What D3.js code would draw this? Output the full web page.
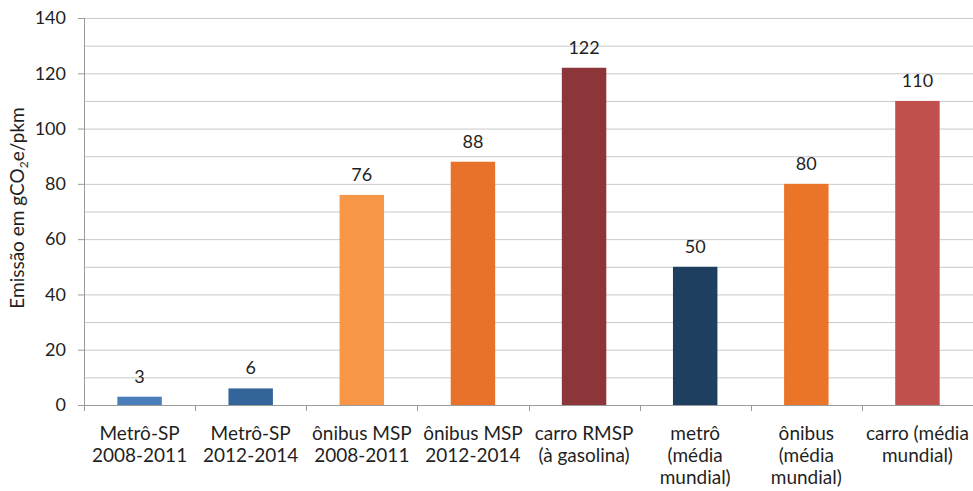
<!DOCTYPE html>
<html>
<head>
<meta charset="utf-8">
<script src="https://cdn.jsdelivr.net/npm/d3@7"></script>
<style>
    html, body { margin: 0; padding: 0; background: #fff; }
    svg text { font-family: Lato, "Open Sans", sans-serif; fill: #1f1f1f; }
</style>
</head>
<body>
<div id="chart"></div>
<script>
// Data
var categories = [
    ['Metrô-SP', '2008-2011'],
    ['Metrô-SP', '2012-2014'],
    ['ônibus MSP', '2008-2011'],
    ['ônibus MSP', '2012-2014'],
    ['carro RMSP', '(à gasolina)'],
    ['metrô', '(média', 'mundial)'],
    ['ônibus', '(média', 'mundial)'],
    ['carro (média', 'mundial)']
];
var values = [3, 6, 76, 88, 122, 50, 80, 110];
var barColors = ['#4a7ebb', '#33659a', '#f79646', '#e8722a', '#8c363a', '#1f3f60', '#ea7428', '#c0504d'];
var yTicks = [0, 20, 40, 60, 80, 100, 120, 140];
var gridValues = d3.range(10, 141, 10);

(function() {
    'use strict';
    var width, height, margin, svg, x, y, g, i, bx, title;

    width = 973;
    height = 491;
    margin = {left: 84, right: 0, top: 18, bottom: 86};

    svg = d3.select('#chart').append('svg')
        .attr('width', width)
        .attr('height', height);

    x = d3.scaleBand()
        .domain(d3.range(categories.length))
        .range([margin.left, width - margin.right])
        .paddingInner(0.6)
        .paddingOuter(0.3);

    y = d3.scaleLinear()
        .domain([0, 140])
        .range([height - margin.bottom, margin.top]);

    // Grid lines
    svg.append('g').selectAll('line')
        .data(gridValues)
        .enter().append('line')
        .attr('x1', margin.left)
        .attr('x2', width - margin.right)
        .attr('y1', function(d) { return y(d) + 0.5; })
        .attr('y2', function(d) { return y(d) + 0.5; })
        .attr('stroke', '#c9c9c9')
        .attr('stroke-width', 1);

    // Bars
    svg.append('g').selectAll('rect')
        .data(values)
        .enter().append('rect')
        .attr('x', function(d, i) { return x(i); })
        .attr('y', function(d) { return y(d); })
        .attr('width', x.bandwidth())
        .attr('height', function(d) { return y(0) - y(d); })
        .attr('fill', function(d, i) { return barColors[i]; });

    // Value labels
    svg.append('g').selectAll('text')
        .data(values)
        .enter().append('text')
        .attr('x', function(d, i) { return x(i) + x.bandwidth() / 2; })
        .attr('y', function(d) { return y(d) - 14; })
        .attr('text-anchor', 'middle')
        .attr('font-size', '18px')
        .text(function(d) { return d; });

    // Y axis
    g = svg.append('g');
    g.append('line')
        .attr('x1', margin.left + 0.5)
        .attr('x2', margin.left + 0.5)
        .attr('y1', y(140))
        .attr('y2', y(0))
        .attr('stroke', '#9a9a9a');
    g.selectAll('line.tick')
        .data(yTicks)
        .enter().append('line')
        .attr('class', 'tick')
        .attr('x1', margin.left - 6)
        .attr('x2', margin.left)
        .attr('y1', function(d) { return y(d) + 0.5; })
        .attr('y2', function(d) { return y(d) + 0.5; })
        .attr('stroke', '#9a9a9a');
    g.selectAll('text')
        .data(yTicks)
        .enter().append('text')
        .attr('x', margin.left - 18)
        .attr('y', function(d) { return y(d); })
        .attr('dy', '0.35em')
        .attr('text-anchor', 'end')
        .attr('font-size', '18px')
        .text(function(d) { return d; });

    // X axis
    g = svg.append('g');
    g.append('line')
        .attr('x1', margin.left)
        .attr('x2', width - margin.right)
        .attr('y1', y(0) + 0.5)
        .attr('y2', y(0) + 0.5)
        .attr('stroke', '#9a9a9a');
    for (i = 0; i <= categories.length; i++) {
        bx = margin.left + (width - margin.right - margin.left) * i / categories.length;
        g.append('line')
            .attr('x1', Math.round(bx) + 0.5)
            .attr('x2', Math.round(bx) + 0.5)
            .attr('y1', y(0))
            .attr('y2', y(0) + 6)
            .attr('stroke', '#9a9a9a');
    }
    categories.forEach(function(lines, i) {
        var t = g.append('text')
            .attr('x', x(i) + x.bandwidth() / 2)
            .attr('y', y(0) + 35)
            .attr('text-anchor', 'middle')
            .attr('font-size', '19px');
        lines.forEach(function(line, j) {
            t.append('tspan')
                .attr('x', x(i) + x.bandwidth() / 2)
                .attr('dy', j === 0 ? 0 : 22)
                .text(line);
        });
    });

    // Y axis title
    title = svg.append('text')
        .attr('transform', 'translate(24,208) rotate(-90)')
        .attr('text-anchor', 'middle')
        .attr('font-size', '19px');
    title.append('tspan').text('Emissão em gCO');
    title.append('tspan').attr('font-size', '12px').attr('dy', 4).text('2');
    title.append('tspan').attr('dy', -4).text('e/pkm');
}());
</script>
</body>
</html>
